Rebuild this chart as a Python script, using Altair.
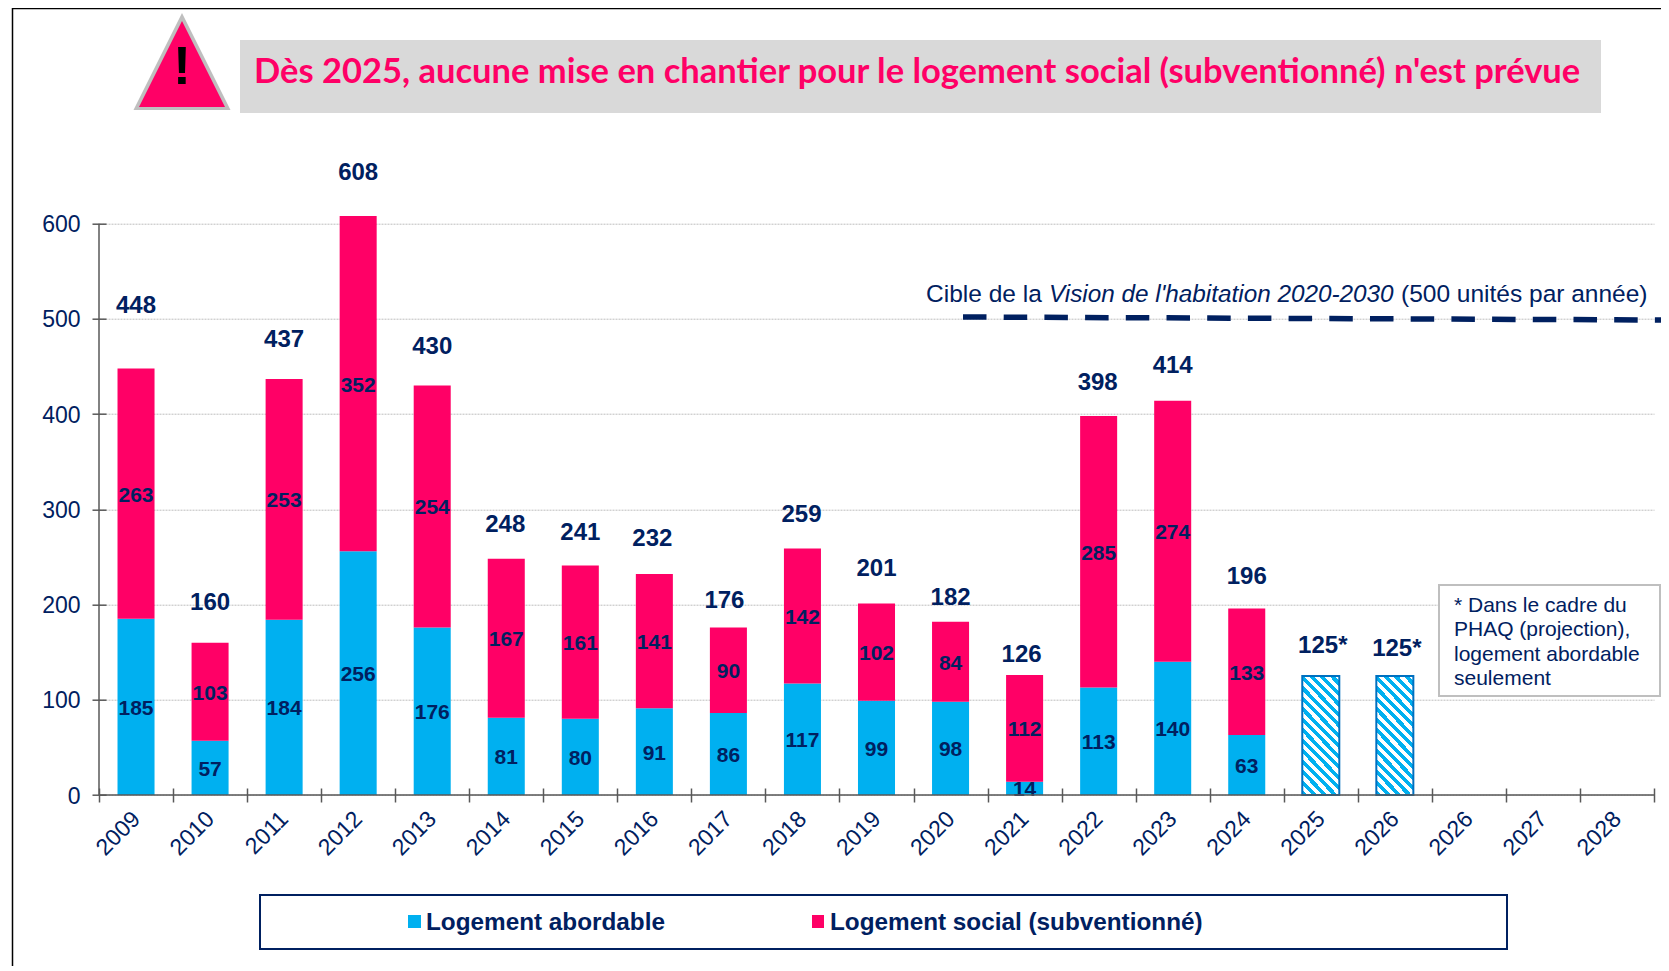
import altair as alt
import pandas as pd

# ---- data ----
years = ["2009", "2010", "2011", "2012", "2013", "2014", "2015", "2016", "2017",
         "2018", "2019", "2020", "2021", "2022", "2023", "2024"]
abordable = [185, 57, 184, 256, 176, 81, 80, 91, 86, 117, 99, 98, 14, 113, 140, 63]
social = [263, 103, 253, 352, 254, 167, 161, 141, 90, 142, 102, 84, 112, 285, 274, 133]
projection_years = ["2025", "2026"]
projection_values = [125, 125]
# the source axis really repeats 2026, the trailing space keeps the two bands distinct
axis_years = years + projection_years + ["2026 ", "2027", "2028"]
total_values = [448, 160, 437, 608, 430, 248, 241, 232, 176, 259, 201, 182, 126, 398, 414, 196, 125, 125]
total_text = ["448", "160", "437", "608", "430", "248", "241", "232", "176", "259", "201", "182",
              "126", "398", "414", "196", "125*", "125*"]

# ---- layout of hand-placed labels (pixels from the bar top / centre) ----
total_lift_px = [62.5, 39.7, 39, 43, 38.6, 33.9, 32.6, 34.6, 26.4, 33.4, 34.6, 23.7,
                 20.5, 33, 34.9, 31.4, 30, 27]
total_dx = [0, 0, 0, 0, 0, -1, 0, -2, -4, -1, 0, 0, -3, -1, 0, 0, 2, 2]

NAVY = "#002060"
BLUE = "#00B0F0"
PINK = "#FF0066"
AXIS = "#595959"
FONT = "Liberation Sans"
OX, OY = 99, 223.7   # page position of the plot origin
W, H = 1555, 571.3

one = pd.DataFrame({"a": [0]})


def px(x):
    return alt.value(x - OX)


def py(y):
    return alt.value(y - OY)


def label(text, x, y, size, color=NAVY, weight="normal", style="normal", align="left", font=FONT):
    return alt.Chart(one).mark_text(text=text, font=font, fontSize=size, color=color, fontWeight=weight,
                                    fontStyle=style, align=align, baseline="middle").encode(x=px(x), y=py(y))


def box(x0, x1, y0, y1, fill, stroke=None, sw=0):
    kw = {"stroke": stroke, "strokeWidth": sw} if stroke else {}
    return alt.Chart(one).mark_rect(fill=fill, **kw).encode(x=px(x0), x2=px(x1), y=py(y0), y2=py(y1))


def line(x0, x1, y0, y1, color, sw, dash=None):
    kw = {"strokeDash": dash} if dash else {}
    return alt.Chart(one).mark_rule(color=color, strokeWidth=sw, **kw).encode(x=px(x0), x2=px(x1), y=py(y0), y2=py(y1))


x_scale = alt.Scale(domain=axis_years, paddingInner=0, paddingOuter=0)
y_scale = alt.Scale(domain=[0, 600], nice=False)
x_axis = alt.Axis(
    offset=-7, tickSize=14, tickBand="extent", tickColor=AXIS, tickWidth=1.5, domain=False, labelAngle=315,
    labelAlign="right", labelBaseline="middle", labelPadding=13, labelFont=FONT, labelFontSize=23,
    labelColor=NAVY, labelExpr="trim(datum.label)", grid=False, title=None)
y_axis = alt.Axis(
    values=[0, 100, 200, 300, 400, 500, 600], offset=-7, tickSize=14, tickColor=AXIS, tickWidth=1.5,
    domain=False, labelPadding=12, labelFont=FONT, labelFontSize=23, labelColor=NAVY, labelOffset=1, grid=True,
    gridColor="#BDBDBD", gridWidth=1, gridDash=[2, 1], title=None)
x_enc = alt.X("year:N", scale=x_scale, axis=x_axis)
half_band = alt.RelativeBandSize(band=0.5)


def y_enc(field):
    return alt.Y(field, scale=y_scale, axis=y_axis)


# ---- stacked bars ----
long_rows = []
for i, y in enumerate(years):
    long_rows.append({"year": y, "serie": "Logement abordable", "ord": 0, "value": abordable[i]})
    long_rows.append({"year": y, "serie": "Logement social (subventionné)", "ord": 1, "value": social[i]})
stack = alt.Chart(pd.DataFrame(long_rows)).transform_stack(
    stack="value", groupby=["year"], sort=[alt.SortField("ord")], as_=["y0", "y1"]
)
bars = stack.mark_bar(width=half_band).encode(
    x=x_enc,
    y=y_enc("y0:Q"),
    y2="y1:Q",
    color=alt.Color("serie:N", legend=None,
                    scale=alt.Scale(domain=["Logement abordable", "Logement social (subventionné)"],
                                    range=[BLUE, PINK])),
)
inner = stack.transform_calculate(mid="(datum.y0+datum.y1)/2").mark_text(
    font=FONT, fontSize=21, fontWeight="bold", color=NAVY, baseline="middle", dy=2
).encode(x=x_enc, y=y_enc("mid:Q"), text="value:Q")

# ---- projection bars, hatched through a hard-stop gradient ----
n_stripes = 15
stops = []
for k in range(n_stripes):
    a, m, b = k / n_stripes, (k + 0.5) / n_stripes, (k + 1) / n_stripes
    stops += [{"offset": a, "color": BLUE}, {"offset": m, "color": BLUE},
              {"offset": m, "color": "#FFFFFF"}, {"offset": b, "color": "#FFFFFF"}]
hatch = {"gradient": "linear", "x1": 0, "y1": 1, "x2": 0.383, "y2": -0.197, "stops": stops}
proj = alt.Chart(pd.DataFrame({"year": projection_years, "value": projection_values})).mark_bar(
    fill=hatch, stroke="#0070C0", strokeWidth=2, width=half_band
).encode(x=x_enc, y=y_enc("value:Q"))

# ---- totals ----
units_per_px = 600 / H
tot_df = pd.DataFrame({"year": years + projection_years, "value": total_values, "txt": total_text,
                       "lift": [p * units_per_px for p in total_lift_px], "shift": total_dx})
total_layers = [
    alt.Chart(tot_df[tot_df["shift"] == s]).transform_calculate(at="datum.value+datum.lift").mark_text(
        font=FONT, fontSize=24, fontWeight="bold", color=NAVY, baseline="middle", dx=s
    ).encode(x=x_enc, y=y_enc("at:Q"), text="txt:N")
    for s in sorted(set(total_dx))
]

chart = alt.layer(
    bars, proj, inner, *total_layers,
    line(99, 99, 223.7, 795, AXIS, 1.5),
    line(99, 1654, 795, 795, AXIS, 1.5),
    # frame
    line(12.5, 12.5, 8, 966, "#000000", 1.5),
    line(12.5, 1661, 8.5, 8.5, "#000000", 1.5),
    # banner
    box(240, 1601, 40, 113, "#D9D9D9"),
    label("Dès 2025, aucune mise en chantier pour le logement social (subventionné) n'est prévue",
          254, 73, 34.5, color=PINK, weight="bold", font="Lato"),
    alt.Chart(one).mark_point(shape="M0,-1L1,1L-1,1Z", filled=True, fill="#BFBFBF", size=97 * 97, opacity=1, strokeWidth=0)
    .encode(x=px(182), y=py(61.5)),
    alt.Chart(one).mark_point(shape="M0,-1L1,1L-1,1Z", filled=True, fill=PINK, size=86 * 86, opacity=1, strokeWidth=0)
    .encode(x=px(182), y=py(64)),
    label("!", 182, 67.5, 54, color="#000000", weight="bold", align="center"),
    # target line
    line(963, 1661, 317, 320, NAVY, 5.5, dash=[23.5, 17.2]),
    label("Cible de la", 926, 295, 24.5),
    label("Vision de l'habitation 2020-2030", 1049, 295, 24.3, style="italic"),
    label("(500 unités par année)", 1401, 295, 24.5),
    # note
    box(1439, 1660, 585, 696, "#FFFFFF", "#BFBFBF", 2),
    label("* Dans le cadre du", 1454, 606, 21),
    label("PHAQ (projection),", 1454, 630, 21),
    label("logement abordable", 1454, 655, 21),
    label("seulement", 1454, 679, 21),
    # legend
    box(260, 1507, 895, 949, "#FFFFFF", NAVY, 2),
    box(408, 421, 915, 928, BLUE),
    label("Logement abordable", 426, 923, 24.3, weight="bold"),
    box(812, 824, 915, 928, PINK),
    label("Logement social (subventionné)", 830, 923, 24.3, weight="bold"),
).properties(
    width=W, height=H,
    padding={"left": OX - 8, "top": OY - 8, "right": 7, "bottom": 171},
    autosize=alt.AutoSizeParams(type="none"),
).configure_view(stroke=None)

chart.save("out.html", embed_options={"renderer": "svg", "actions": False})
